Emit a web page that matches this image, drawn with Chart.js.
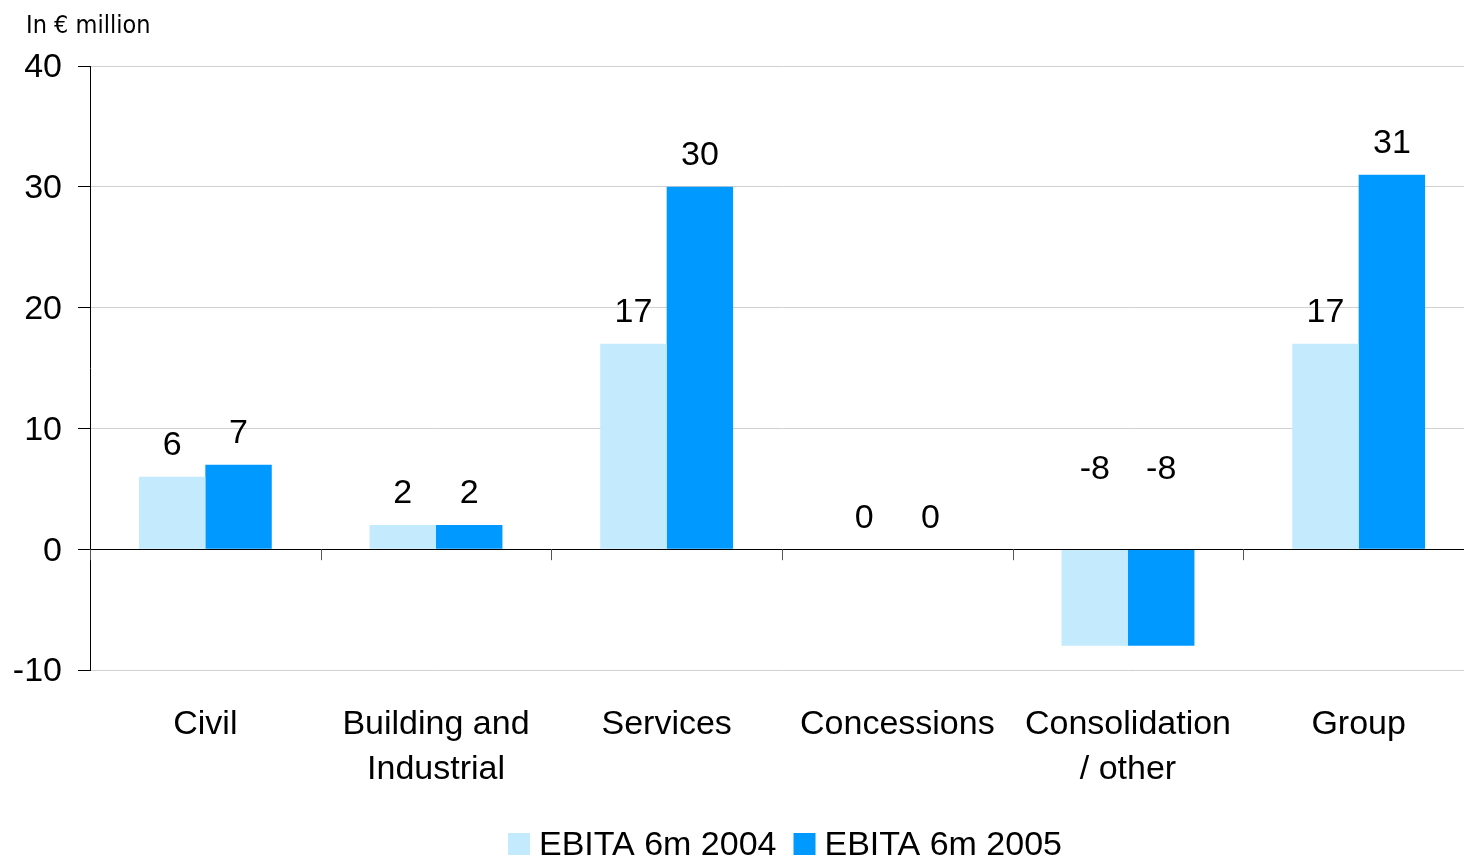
<!DOCTYPE html>
<html lang="en">

<head>
  <meta charset="UTF-8" />
  <title>EBITA by division</title>
  <script src="https://cdn.jsdelivr.net/npm/chart.js"></script>
  <style>
    html, body {
      margin: 0;
      padding: 0;
      background: #ffffff;
      overflow: hidden;
    }

    .wrap {
      position: relative;
      width: 1474px;
      height: 858px;
    }

    .unit {
      position: absolute;
      left: 26px;
      top: 10px;
      font-family: 'DejaVu Sans Condensed', 'DejaVu Sans', sans-serif;
      font-size: 25px;
      color: #000;
    }
  </style>
</head>

<body>
  <div class="wrap">
    <div class="unit">In € million</div>
    <canvas id="ebitaChart" width="1474" height="858"></canvas>
  </div>

  <script>
    // Dados
    const categorias = ['Civil', ['Building and', 'Industrial'], 'Services', 'Concessions', ['Consolidation', '/ other'], 'Group'];
    const ebita2004 = [6, 2, 17, 0, -8, 17];
    const ebita2005 = [7, 2, 30, 0, -8, 31];
    const series = ['EBITA 6m 2004', 'EBITA 6m 2005'];
    const yTicks = [-10, 0, 10, 20, 30, 40];

    const corClaro = '#C4EAFE';
    const corEscuro = '#0099FF';
    const fonte = 'Liberation Sans, Arial, sans-serif';

    // rótulos de valor acima das barras
    const rotulosPlugin = {
      id: 'rotulos',
      afterDatasetsDraw(chart) {
        const ctx = chart.ctx;
        const y0 = chart.scales.y.getPixelForValue(0);
        ctx.save();
        ctx.font = '34px ' + fonte;
        ctx.fillStyle = '#000';
        ctx.textAlign = 'center';
        ctx.textBaseline = 'middle';
        chart.data.datasets.forEach((ds, di) => {
          const meta = chart.getDatasetMeta(di);
          meta.data.forEach((bar, i) => {
            const v = ds.data[i];
            let y;
            if (v > 0) y = bar.y - 31;
            else if (v === 0) y = y0 - 31;
            else y = y0 - 80;
            ctx.fillText(String(v), bar.x, y);
          });
        });
        ctx.restore();
      }
    };

    // eixo zero com marcas entre categorias
    const eixoZeroPlugin = {
      id: 'eixoZero',
      afterDatasetsDraw(chart) {
        const ctx = chart.ctx;
        const xs = chart.scales.x;
        const y0 = chart.scales.y.getPixelForValue(0);
        const passo = (xs.right - xs.left) / categorias.length;
        ctx.save();
        ctx.strokeStyle = '#000';
        ctx.lineWidth = 1;
        ctx.beginPath();
        ctx.moveTo(xs.left, Math.round(y0) + 0.5);
        ctx.lineTo(xs.right, Math.round(y0) + 0.5);
        ctx.stroke();
        ctx.strokeStyle = '#555';
        for (let i = 0; i <= categorias.length; i++) {
          const x = Math.round(xs.left + i * passo) + 0.5;
          ctx.beginPath();
          ctx.moveTo(x, y0);
          ctx.lineTo(x, y0 + 11);
          ctx.stroke();
        }
        ctx.restore();
      }
    };

    // legenda embaixo, centrada na área do gráfico
    const legendaPlugin = {
      id: 'legenda',
      afterDraw(chart) {
        const ctx = chart.ctx;
        const area = chart.chartArea;
        const cores = [corClaro, corEscuro];
        const caixa = 22, espaco = 9, entre = 17;
        ctx.save();
        ctx.font = '34px ' + fonte;
        ctx.textBaseline = 'middle';
        const larguras = series.map(s => caixa + espaco + ctx.measureText(s).width);
        const total = larguras.reduce((a, b) => a + b, 0) + entre * (series.length - 1);
        let x = (area.left + area.right) / 2 - total / 2 + 3;
        const y = 844;
        series.forEach((s, i) => {
          ctx.fillStyle = cores[i];
          ctx.fillRect(x, y - caixa / 2, caixa, caixa);
          ctx.fillStyle = '#000';
          ctx.fillText(s, x + caixa + espaco, y + 2);
          x += larguras[i] + entre;
        });
        ctx.restore();
      }
    };

    new Chart(document.getElementById('ebitaChart'), {
      type: 'bar',
      data: {
        labels: categorias,
        datasets: [
          { label: series[0], data: ebita2004, backgroundColor: corClaro },
          { label: series[1], data: ebita2005, backgroundColor: corEscuro }
        ]
      },
      options: {
        responsive: false,
        animation: false,
        layout: { padding: { top: 66, right: 0, bottom: 0, left: 0 } },
        datasets: {
          bar: { categoryPercentage: 0.576, barPercentage: 1.0 }
        },
        plugins: {
          legend: { display: false },
          tooltip: { enabled: false }
        },
        scales: {
          x: {
            grid: { display: false, drawTicks: false },
            border: { display: false },
            ticks: {
              color: '#000',
              padding: 33,
              maxRotation: 0,
              autoSkip: false,
              font: { family: fonte, size: 34, lineHeight: 1.3 }
            },
            afterFit(scale) { scale.height = 188; }
          },
          y: {
            min: -10,
            max: 40,
            afterBuildTicks(scale) {
              scale.ticks = yTicks.map(v => ({ value: v }));
            },
            grid: {
              color: ctx => ctx.tick && ctx.tick.value === 0 ? '#000' : '#D0D0D0',
              tickColor: '#000',
              tickLength: 12,
              lineWidth: 1
            },
            border: { display: true, color: '#000', width: 1 },
            ticks: {
              color: '#000',
              padding: 16,
              labelOffset: 2,
              font: { family: fonte, size: 34 }
            },
            afterFit(scale) { scale.width = 90; }
          }
        }
      },
      plugins: [eixoZeroPlugin, rotulosPlugin, legendaPlugin]
    });
  </script>
</body>

</html>
